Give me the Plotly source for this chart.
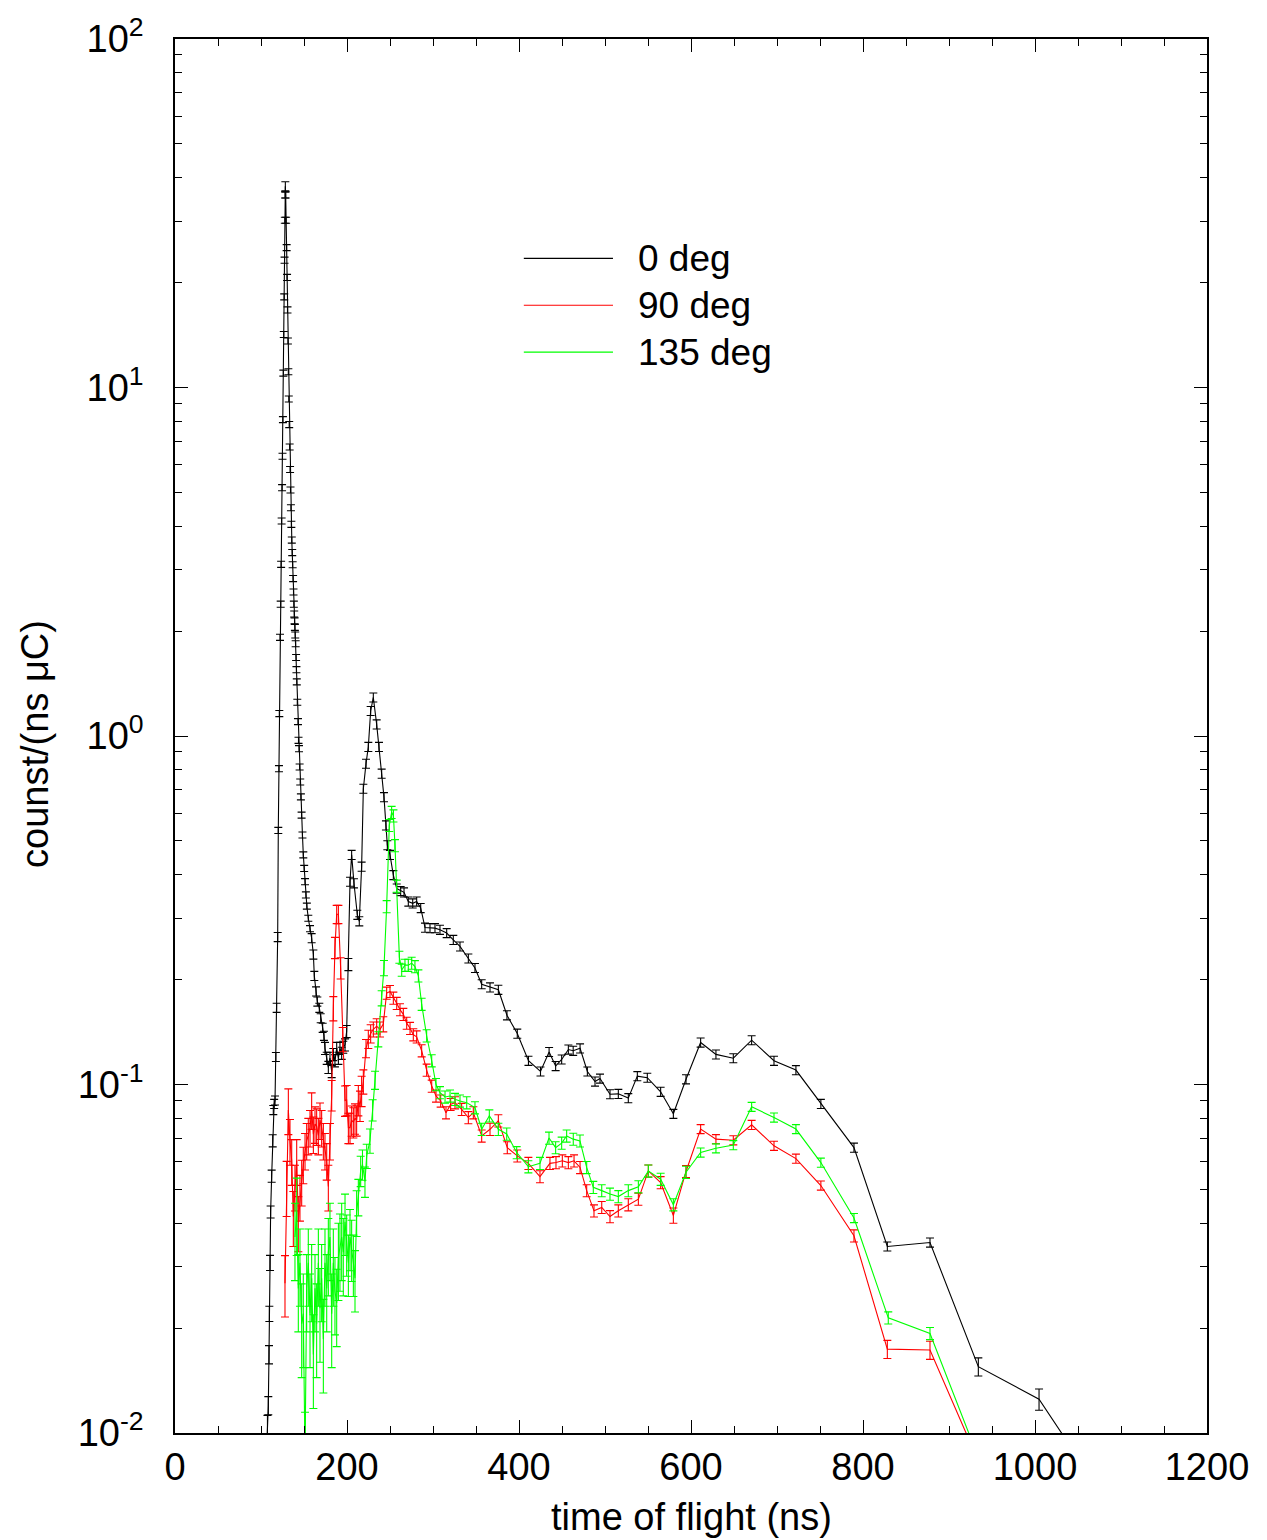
import plotly.graph_objects as go

# ---------------- data ----------------
# 0 deg (black): time of flight (ns), counts/(ns uC), relative error (%)
t_black = [104.0, 106.0, 107.5, 108.5, 109.3, 109.7, 110.5, 111.2, 112.4, 113.6, 114.3, 115.3, 116.3, 117.3,
           118.2, 119.4, 120.1, 120.9, 121.3, 122.1, 122.9, 123.4, 124.0, 124.5, 125.0, 125.5, 126.0, 126.5,
           127.0, 127.4, 127.7, 128.0, 128.3, 128.7, 129.2, 129.8, 130.3, 130.8, 131.3, 131.8, 132.3, 132.8,
           133.3, 133.8, 134.3, 134.8, 135.3, 135.8, 136.3, 136.8, 137.3, 137.8, 138.2, 138.6, 139.0, 139.4,
           139.8, 140.3, 140.8, 141.2, 141.6, 142.2, 143.0, 143.6, 144.2, 144.9, 145.6, 146.4, 147.2, 148.2,
           149.2, 150.2, 151.2, 152.2, 153.3, 155.0, 157.0, 158.9, 160.9, 162.0, 164.0, 165.5, 167.8, 169.4,
           171.7, 173.2, 174.4, 176.4, 178.3, 180.2, 182.2, 184.1, 186.0, 188.0, 190.0, 191.8, 193.8, 195.7,
           197.7, 199.6, 201.6, 203.5, 205.4, 208.1, 212.0, 214.3, 217.0, 219.0, 222.1, 224.8, 227.5, 230.6,
           234.5, 237.2, 240.3, 243.0, 245.3, 246.9, 250.0, 253.9, 257.8, 262.4, 266.3, 271.3, 276.4, 281.0,
           285.7, 290.7, 296.5, 302.3, 308.1, 315.9, 323.6, 331.4, 341.1, 348.8, 356.6, 366.3, 376.0, 386.0,
           398.0, 411.0, 425.0, 435.0, 442.6, 449.6, 457.4, 463.0, 471.0, 479.5, 488.4, 494.2, 505.8, 515.5,
           527.1, 537.6, 549.2, 564.7, 579.5, 594.2, 611.2, 629.0, 649.2, 670.5, 696.5, 722.0, 751.0, 789.5,
           828.3, 877.9, 934.1, 1004.7, 1085.0]
v_black = [0.0060, 0.0085, 0.0105, 0.0120, 0.0168, 0.0220, 0.0308, 0.0431, 0.0546, 0.0690, 0.0845, 0.0880,
           0.0900, 0.1200, 0.1660, 0.2650, 0.5360, 0.8060, 1.160, 1.920, 2.390, 3.110, 4.140, 5.160, 6.350,
           8.090, 11.00, 14.20, 18.20, 23.20, 30.20, 35.70, 37.80, 35.70, 30.20, 25.20, 20.70, 16.70, 13.60,
           11.10, 9.27, 7.83, 6.75, 5.82, 5.08, 4.52, 4.05, 3.65, 3.36, 3.10, 2.83, 2.59, 2.39, 2.24, 2.14,
           2.05, 1.95, 1.84, 1.68, 1.55, 1.43, 1.25, 1.10, 0.972, 0.920, 0.815, 0.738, 0.669, 0.593, 0.520,
           0.456, 0.417, 0.382, 0.350, 0.325, 0.300, 0.280, 0.263, 0.236, 0.205, 0.185, 0.173, 0.166, 0.155,
           0.1455, 0.138, 0.127, 0.119, 0.112, 0.119, 0.109, 0.122, 0.117, 0.127, 0.119, 0.127, 0.123, 0.128,
           0.130, 0.142, 0.221, 0.382, 0.456, 0.378, 0.307, 0.294, 0.422, 0.706, 0.833, 0.931, 1.18, 1.29,
           1.08, 0.931, 0.780, 0.668, 0.554, 0.486, 0.456, 0.399, 0.365, 0.359, 0.356, 0.335, 0.331, 0.335,
           0.321, 0.282, 0.281, 0.281, 0.278, 0.272, 0.260, 0.249, 0.230, 0.216, 0.194, 0.190, 0.187, 0.158,
           0.140, 0.117, 0.109, 0.124, 0.113, 0.118, 0.126, 0.125, 0.127, 0.109, 0.102, 0.104, 0.0938, 0.094,
           0.0914, 0.1057, 0.1046, 0.0953, 0.0824, 0.1035, 0.132, 0.122, 0.119, 0.134, 0.117, 0.110, 0.088,
           0.0659, 0.0343, 0.0352, 0.0155, 0.0125, 0.0063]
e_black = [10, 8, 7, 6, 6, 5, 5, 4, 4, 4, 3, 3, 3, 3,
           3, 3, 2, 2, 2, 2, 2, 2, 2, 2, 2, 2, 2, 2,
           2, 2, 2, 2, 3, 2, 2, 2, 2, 2, 2, 2, 2, 2,
           2, 2, 2, 2, 2, 2, 2, 2, 2, 2, 2, 2, 2, 2,
           2, 2, 2, 2, 2, 2, 2, 2, 2, 2, 2, 2, 2, 2,
           2, 2, 2, 2, 2, 2, 2, 3, 3, 3, 3, 3, 3, 3,
           3, 3, 4, 4, 4, 4, 4, 4, 4, 4, 4, 4, 4, 4,
           4, 4, 4, 3, 3, 3, 3, 3, 3, 3, 3, 3, 3, 3,
           3, 3, 3, 3, 3, 3, 3, 3, 3, 3, 3, 3, 3, 3,
           3, 3, 3, 3, 3, 3, 3, 3, 3, 3, 3, 3, 3, 3,
           3, 3, 3, 3, 3, 3, 3, 3, 3, 3, 3, 3, 3, 3,
           3, 3, 3, 3, 3, 3, 3, 3, 3, 3, 3, 3, 3, 3,
           3, 3, 6, 7, 8]

# 90 deg (red)
t_red = [127.9, 129.8, 131.8, 133.7, 135.7, 137.6, 139.5, 141.5, 143.4, 145.3, 147.3, 149.2, 151.2, 153.1,
         155.0, 157.0, 158.9, 160.9, 162.8, 164.7, 166.7, 168.6, 170.5, 172.5, 174.4, 176.4, 178.3, 180.2,
         182.2, 184.1, 186.0, 188.0, 190.0, 192.6, 195.0, 197.7, 199.6, 201.6, 203.5, 205.4, 207.4, 209.3,
         211.2, 213.2, 215.1, 217.0, 219.0, 222.1, 224.8, 227.5, 230.6, 234.5, 238.4, 242.2, 246.1, 250.0,
         253.9, 257.8, 261.6, 265.5, 269.4, 273.3, 277.1, 281.0, 286.8, 292.6, 298.5, 303.5, 308.9, 315.1,
         320.5, 325.6, 333.3, 341.1, 346.9, 356.6, 366.3, 376.0, 386.4, 398.0, 410.9, 424.4, 436.0, 443.0,
         450.4, 457.4, 464.0, 471.0, 478.7, 487.2, 496.2, 505.8, 515.5, 527.1, 538.8, 550.4, 564.7, 579.5,
         594.2, 611.2, 629.0, 649.2, 670.5, 696.5, 722.0, 751.0, 789.5, 828.3, 877.9, 934.1]
v_red = [0.0269, 0.051, 0.0845, 0.069, 0.0604, 0.0418, 0.051, 0.0604, 0.0404, 0.0477, 0.0527, 0.059, 0.0646,
         0.069, 0.0714, 0.0752, 0.0845, 0.072, 0.077, 0.076, 0.0714, 0.079, 0.0752, 0.069, 0.0646, 0.0604,
         0.051, 0.069, 0.0933, 0.1655, 0.247, 0.308, 0.308, 0.216, 0.135, 0.090, 0.0903, 0.0752, 0.0752,
         0.0789, 0.078, 0.080, 0.079, 0.0903, 0.087, 0.096, 0.102, 0.127, 0.135, 0.140, 0.144, 0.147, 0.144,
         0.149, 0.183, 0.185, 0.177, 0.171, 0.164, 0.159, 0.150, 0.145, 0.139, 0.137, 0.125, 0.110, 0.099,
         0.0927, 0.0897, 0.083, 0.0877, 0.0887, 0.0849, 0.0804, 0.083, 0.0712, 0.0744, 0.0787, 0.0659,
         0.0624, 0.0594, 0.0544, 0.0594, 0.0597, 0.0604, 0.0597, 0.0604, 0.0578, 0.0496, 0.0434, 0.0444,
         0.0418, 0.0434, 0.0452, 0.0469, 0.0565, 0.0523, 0.0421, 0.0563, 0.0745, 0.0697, 0.0692, 0.0766,
         0.0667, 0.0613, 0.0513, 0.0368, 0.0174, 0.0173, 0.0083]
e_red = [20, 18, 15, 15, 15, 18, 15, 15, 18, 15, 15, 12, 12, 12,
         12, 12, 12, 12, 12, 12, 12, 12, 12, 12, 12, 12, 15, 12,
         10, 8, 7, 6, 6, 7, 8, 10, 10, 10, 10, 10, 10, 10,
         10, 10, 10, 10, 8, 6, 6, 6, 5, 5, 5, 5, 4, 4,
         4, 4, 4, 4, 4, 4, 4, 4, 4, 4, 4, 4, 4, 4,
         4, 4, 4, 4, 4, 4, 4, 4, 4, 4, 4, 4, 4, 4,
         4, 4, 4, 4, 4, 4, 4, 4, 4, 4, 4, 4, 4, 5,
         4, 3, 3, 3, 3, 3, 3, 3, 4, 6, 6, 8]

# 135 deg (green)
t_green = [139.5, 141.5, 143.4, 145.3, 147.3, 149.2, 151.2, 153.1, 155.0, 157.0, 158.9, 160.9, 162.8, 164.7,
           166.7, 168.6, 170.5, 172.5, 174.4, 176.4, 178.3, 180.2, 182.2, 184.1, 186.0, 188.0, 190.0, 191.8,
           193.8, 195.7, 197.7, 199.6, 201.6, 203.5, 205.4, 207.4, 209.3, 211.2, 213.2, 215.9, 218.0, 220.9,
           222.9, 226.7, 229.8, 232.6, 236.4, 240.3, 243.0, 246.1, 249.2, 251.9, 254.0, 255.8, 257.8, 260.9,
           263.6, 267.4, 271.3, 275.2, 279.0, 283.0, 286.8, 292.6, 298.5, 303.5, 308.1, 314.0, 319.8, 325.6,
           331.4, 339.2, 348.8, 356.6, 365.5, 376.0, 385.7, 397.3, 410.9, 424.4, 434.9, 442.6, 449.6, 455.4,
           463.1, 470.9, 478.7, 486.4, 496.2, 505.8, 515.5, 527.1, 538.8, 550.4, 564.7, 579.5, 594.2, 611.2,
           629.0, 649.2, 670.5, 696.5, 722.0, 751.0, 789.5, 829.4, 877.9, 934.1]
v_green = [0.0365, 0.0431, 0.026, 0.0308, 0.0206, 0.022, 0.0085, 0.026, 0.0308, 0.022, 0.0278, 0.0168, 0.026,
           0.0206, 0.0308, 0.0228, 0.0278, 0.0186, 0.0308, 0.026, 0.033, 0.0365, 0.022, 0.0308, 0.0255, 0.0236,
           0.032, 0.034, 0.0365, 0.033, 0.0404, 0.0352, 0.0308, 0.0365, 0.034, 0.0308, 0.0278, 0.0431, 0.0477,
           0.0566, 0.059, 0.0527, 0.0624, 0.069, 0.0845, 0.103, 0.135, 0.177, 0.216, 0.324, 0.554, 0.604, 0.590,
           0.485, 0.371, 0.232, 0.213, 0.220, 0.220, 0.223, 0.218, 0.205, 0.170, 0.138, 0.117, 0.100, 0.0948,
           0.0921, 0.0927, 0.0907, 0.0897, 0.0887, 0.0858, 0.0744, 0.0813, 0.0744, 0.0721, 0.0638, 0.0581,
           0.0594, 0.0702, 0.0659, 0.0679, 0.0712, 0.0697, 0.0689, 0.0578, 0.0507, 0.0496, 0.0485, 0.0477,
           0.0496, 0.0509, 0.0565, 0.0535, 0.0452, 0.0560, 0.0638, 0.0656, 0.0670, 0.0863, 0.0804, 0.0745,
           0.0597, 0.0414, 0.0214, 0.0193, 0.0085]
e_green = [25, 25, 25, 25, 30, 30, 35, 25, 25, 30, 25, 30, 25, 30,
           25, 30, 25, 30, 25, 25, 25, 25, 30, 25, 25, 25, 25, 25,
           25, 25, 20, 20, 20, 20, 20, 20, 20, 15, 12, 10, 10, 10,
           8, 8, 7, 6, 5, 5, 5, 4, 4, 4, 4, 4, 4, 4,
           4, 4, 4, 4, 4, 4, 4, 4, 4, 4, 4, 4, 4, 4,
           4, 4, 4, 4, 4, 4, 4, 4, 4, 4, 4, 4, 4, 4,
           4, 4, 4, 4, 4, 4, 4, 4, 4, 4, 4, 4, 4, 3,
           3, 3, 3, 3, 3, 3, 3, 4, 4, 6]

series_names = ["0 deg", "90 deg", "135 deg"]
x_ticks = [0, 200, 400, 600, 800, 1000, 1200]
y_tickvals = [0.01, 0.1, 1, 10, 100]
y_ticktext = ["10<sup>-2</sup>", "10<sup>-1</sup>", "10<sup>0</sup>", "10<sup>1</sup>", "10<sup>2</sup>"]

# ---------------- figure ----------------
FONT = "Liberation Sans, Arial, Helvetica, sans-serif"
colors = ["#000000", "#ff0000", "#00ff00"]
data_sets = [(t_black, v_black, e_black), (t_red, v_red, e_red), (t_green, v_green, e_green)]

fig = go.Figure()
for (t, v, e), col, name in zip(data_sets, colors, series_names):
    err = [vi * ei / 100.0 for vi, ei in zip(v, e)]
    fig.add_trace(go.Scatter(
        x=t, y=v, mode="lines", name=name,
        line=dict(color=col, width=1.1),
        error_y=dict(type="data", array=err, visible=True, color=col, thickness=1.1, width=4),
        showlegend=False, cliponaxis=True,
    ))

minor_y = [k * 10.0 ** e for e in range(-2, 2) for k in range(2, 10)]

fig.update_layout(
    width=1267, height=1540,
    margin=dict(l=175, r=60, t=35, b=107),
    paper_bgcolor="white", plot_bgcolor="white",
    font=dict(family=FONT, size=38, color="black"),
    showlegend=False,
)
fig.update_xaxes(
    range=[0, 1200], tickvals=x_ticks, ticks="inside", ticklen=13, tickwidth=1.3, tickcolor="black",
    showline=True, linewidth=1.6, linecolor="black", mirror="allticks",
    showgrid=False, zeroline=False, ticklabelstandoff=0,
    minor=dict(ticks="inside", ticklen=7, tickwidth=1.3, tickcolor="black", dtick=50, tick0=0, showgrid=False),
    tickfont=dict(size=38),
)
fig.update_yaxes(
    type="log", range=[-2, 2], tickvals=y_tickvals, ticktext=y_ticktext,
    ticks="inside", ticklen=13, tickwidth=1.3, tickcolor="black",
    showline=True, linewidth=1.6, linecolor="black", mirror="allticks",
    showgrid=False, zeroline=False, ticklabelstandoff=22,
    minor=dict(ticks="inside", ticklen=7, tickwidth=1.3, tickcolor="black", tickvals=minor_y, showgrid=False),
    tickfont=dict(size=38),
)

# axis titles
fig.add_annotation(text="time of flight (ns)", xref="paper", yref="paper", x=0.5, y=-0.0601,
                   xanchor="center", yanchor="middle", showarrow=False, font=dict(size=38))
fig.add_annotation(text="counst/(ns \u03bcC)", xref="paper", yref="paper", x=-0.1357, y=0.4943,
                   xanchor="center", yanchor="middle", textangle=-90, showarrow=False, font=dict(size=38))

# legend (drawn manually to match long sample lines)
leg_y = [0.8426, 0.809, 0.7754]
for col, name, yy in zip(colors, series_names, leg_y):
    fig.add_shape(type="line", xref="paper", yref="paper", x0=0.338, x1=0.4244, y0=yy, y1=yy,
                  line=dict(color=col, width=1.2))
    fig.add_annotation(text=name, xref="paper", yref="paper", x=0.4467, y=yy, xanchor="left",
                       yanchor="middle", showarrow=False, font=dict(size=37))

fig.write_html("out.html")
